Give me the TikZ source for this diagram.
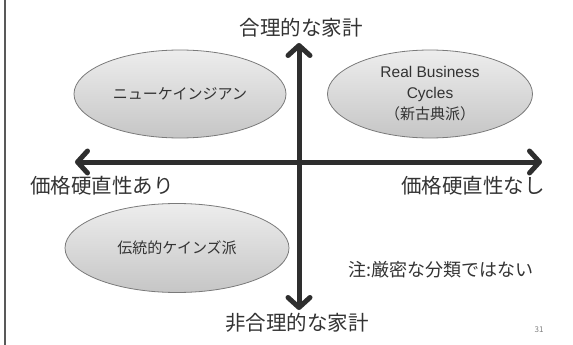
\documentclass[tikz,border=0pt]{standalone}
\usepackage{fontspec}
\setmainfont{Noto Sans CJK JP}
\newfontfamily\latinsans{Liberation Sans}
\usetikzlibrary{arrows.meta,shapes.geometric}
\definecolor{axiscol}{HTML}{2E2E2E}
\definecolor{edgecol}{HTML}{7A7A7A}
\definecolor{txtcol}{HTML}{333333}
\tikzset{
  school/.style={ellipse, draw=edgecol, line width=0.8pt, top color=gray!14, bottom color=gray!45, inner sep=0pt, font=\fontsize{15}{21}\selectfont, text=txtcol, align=center},
  axis/.style={draw=axiscol, line width=5pt, {Straight Barb[length=10pt,width=22pt,line cap=round,line join=round]}-{Straight Barb[length=10pt,width=22pt,line cap=round,line join=round]}},
  biglabel/.style={font=\fontsize{20.5}{24}\selectfont, text=txtcol, inner sep=0pt},
}
\begin{document}
\begin{tikzpicture}[x=1pt,y=-1pt]
\useasboundingbox (0,0) rectangle (573,345);
\draw[line width=1.5pt, draw=gray!70!black] (5,0) -- (5,345);
% ellipses
\node[school, minimum width=212pt, minimum height=88pt] (nk) at (180,94) {ニューケインジアン};
\node[school, minimum width=205pt, minimum height=88pt] (rbc) at (430,94) {{\latinsans\fontsize{15.5}{21}\selectfont Real Business}\\{\latinsans\fontsize{15.5}{21}\selectfont Cycles}\\（新古典派）};
\node[school, minimum width=224pt, minimum height=89pt] (trad) at (177,248) {伝統的ケインズ派};
% axes
\coordinate (top) at (299,43);
\coordinate (bot) at (299,310);
\coordinate (lft) at (75,162);
\coordinate (rgt) at (542,162);
\draw[axis] (lft) -- (rgt);
\draw[axis] (bot) -- (top);
% labels
\node[biglabel] (ltop) at (301,28) {合理的な家計};
\node[biglabel] (lbot) at (297,323) {非合理的な家計};
\node[biglabel, anchor=west] (lleft) at (30,186) {価格硬直性あり};
\node[biglabel, anchor=east] (lright) at (545,186) {価格硬直性なし};
\node[font=\fontsize{18}{20}\selectfont, text=txtcol, inner sep=0pt] (note) at (441,270) {注:厳密な分類ではない};
\node[font=\fontsize{8}{10}\selectfont, text=gray, inner sep=0pt] (page) at (539,330) {31};
\end{tikzpicture}
\end{document}
